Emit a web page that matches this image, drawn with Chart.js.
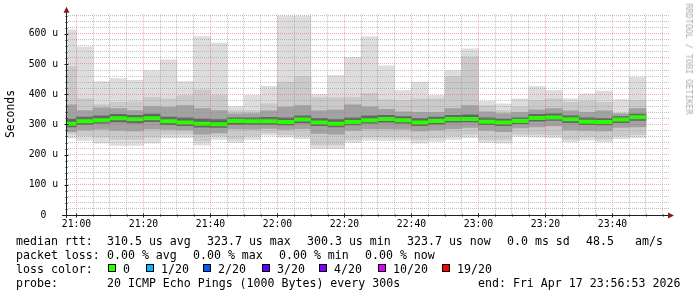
<!DOCTYPE html>
<html>
<head>
<meta charset="utf-8">
<script src="https://cdn.jsdelivr.net/npm/chart.js@4.4.1/dist/chart.umd.min.js"></script>
<style>
  html, body { margin: 0; padding: 0; background: #fff; }
  #wrap { position: relative; width: 697px; height: 297px; overflow: hidden; background: #fff; }
  #wrap canvas { position: absolute; left: 0; top: 0; }
  .t { position: absolute; font-family: "DejaVu Sans Mono", monospace; font-size: 11.6px; line-height: 14px; white-space: pre; color: #000; }
  .box { position: absolute; width: 6px; height: 6px; border: 1px solid #000; top: 264px; }
  #ylabel { position: absolute; left: 10px; top: 114px; font-family: "DejaVu Sans Mono", monospace; font-size: 11.4px; white-space: nowrap;
            transform: translate(-50%, -50%) rotate(-90deg); }
  #wm { position: absolute; left: 689px; top: 59px; font-family: "DejaVu Sans Mono", monospace; font-size: 8.4px; color: #aaa; white-space: nowrap;
        transform: translate(-50%, -50%) rotate(90deg); }
</style>
</head>
<body>
<div id="wrap">
  <canvas id="smoke" width="697" height="297"></canvas>
  <div id="ylabel">Seconds</div>
  <div id="wm">RRDTOOL / TOBI OETIKER</div>

  <div class="t" style="left:16px;top:234px">median rtt:</div>
  <div class="t" style="left:107px;top:234px">310.5 us avg</div>
  <div class="t" style="left:207px;top:234px">323.7 us max</div>
  <div class="t" style="left:307px;top:234px">300.3 us min</div>
  <div class="t" style="left:407px;top:234px">323.7 us now</div>
  <div class="t" style="left:507px;top:234px">0.0 ms sd</div>
  <div class="t" style="left:586px;top:234px">48.5</div>
  <div class="t" style="left:635px;top:234px">am/s</div>

  <div class="t" style="left:16px;top:248px">packet loss:</div>
  <div class="t" style="left:107px;top:248px">0.00 % avg</div>
  <div class="t" style="left:193px;top:248px">0.00 % max</div>
  <div class="t" style="left:279px;top:248px">0.00 % min</div>
  <div class="t" style="left:365px;top:248px">0.00 % now</div>

  <div class="t" style="left:16px;top:262px">loss color:</div>
  <div id="losslegend"></div>

  <div class="t" style="left:16px;top:276px">probe:</div>
  <div class="t" style="left:107px;top:276px">20 ICMP Echo Pings (1000 Bytes) every 300s</div>
  <div class="t" style="left:478px;top:276px">end: Fri Apr 17 23:56:53 2026</div>
</div>

<script>
// 5 minute slots (start time of each smoke column)
const slotStart = [
  "20:55", "21:00", "21:05", "21:10", "21:15", "21:20", "21:25", "21:30", "21:35", "21:40",
  "21:45", "21:50", "21:55", "22:00", "22:05", "22:10", "22:15", "22:20", "22:25", "22:30",
  "22:35", "22:40", "22:45", "22:50", "22:55", "23:00", "23:05", "23:10", "23:15", "23:20",
  "23:25", "23:30", "23:35", "23:40", "23:45"
];

// rtt in microseconds
const rttMedian = [302, 310, 314, 320, 317, 320, 310, 306, 302, 300.3, 311, 310, 310, 308, 316, 306, 302, 308, 314, 318,
                   314, 306, 311, 318, 318, 309, 306, 311, 321, 323, 317, 309, 308, 316, 323.7];
const rttMax    = [613, 557, 442, 452, 446, 477, 514, 442, 591, 569, 359, 396, 426, 659, 659, 399, 462, 522, 590, 494,
                   412, 440, 396, 478, 550, 376, 368, 385, 425, 412, 385, 401, 410, 382, 456];
const rtt19     = [491, 385, 366, 373, 375, 390, 385, 395, 414, 396, 346, 346, 368, 440, 458, 388, 388, 390, 403, 381,
                   379, 385, 385, 458, 524, 362, 346, 357, 379, 385, 373, 377, 373, 337, 379];
const rttP75    = [365, 346, 355, 352, 346, 359, 357, 362, 352, 346, 335, 336, 345, 357, 362, 345, 348, 365, 358, 350,
                   342, 340, 340, 352, 362, 342, 336, 340, 348, 352, 345, 340, 345, 335, 352];
const rttP60    = [318, 324, 328, 333, 330, 334, 324, 322, 318, 316, 322, 322, 323, 322, 328, 320, 316, 322, 328, 330,
                   326, 320, 324, 330, 332, 322, 318, 322, 333, 335, 328, 322, 320, 326, 334];
const rttP40    = [292, 300, 304, 308, 305, 309, 299, 296, 291, 290, 300, 300, 300, 298, 305, 296, 292, 298, 304, 307,
                   304, 296, 301, 307, 308, 299, 296, 302, 311, 313, 306, 299, 298, 306, 313];
const rttP25    = [276, 282, 284, 280, 278, 285, 283, 282, 268, 272, 285, 284, 287, 283, 286, 270, 268, 280, 285, 285,
                   284, 278, 282, 286, 290, 280, 276, 288, 292, 295, 282, 280, 278, 290, 292];
const rtt2      = [269, 262, 258, 250, 250, 258, 268, 268, 245, 262, 252, 262, 272, 266, 262, 232, 232, 250, 258, 258,
                   258, 250, 255, 262, 268, 250, 250, 268, 268, 265, 252, 258, 252, 262, 266];
const rttMin    = [255, 247, 238, 230, 230, 238, 255, 256, 231, 250, 240, 250, 264, 258, 253, 220, 220, 240, 247, 246,
                   247, 238, 244, 250, 256, 240, 238, 260, 258, 256, 242, 248, 242, 253, 256];

const xTickLabels = ["21:00", "21:20", "21:40", "22:00", "22:20", "22:40", "23:00", "23:20", "23:40"];
const yTickValues = [0, 100, 200, 300, 400, 500, 600];
const yTickLabels = ["0  ", "100 u", "200 u", "300 u", "400 u", "500 u", "600 u"];

const lossNames  = ["0", "1/20", "2/20", "3/20", "4/20", "10/20", "19/20"];
const lossColors = ["#26ff00", "#00b8ff", "#0059ff", "#5e00ff", "#7e00ff", "#dd00ff", "#ff0000"];

const endTime = "23:56:53";
const stepMin = 5;

// minutes relative to 21:00
function toMin(s) {
  const p = s.split(":").map(Number);
  return p[0] * 60 + p[1] + (p[2] || 0) / 60 - 21 * 60;
}
function toLabel(m) {
  const t = Math.round(m) + 21 * 60;
  return String(Math.floor(t / 60)).padStart(2, "0") + ":" + String(t % 60).padStart(2, "0");
}

const axisEnd = toMin(endTime);
const axisStart = axisEnd - 180;
const xCenter = slotStart.map(s => toMin(s) + stepMin / 2);

// loss colour legend
const lossLegend = document.getElementById("losslegend");
const boxX = [108, 146, 203, 262, 319, 378, 442];
lossNames.forEach((name, i) => {
  const b = document.createElement("div");
  b.className = "box";
  b.style.left = boxX[i] + "px";
  b.style.background = lossColors[i];
  lossLegend.appendChild(b);
  const t = document.createElement("div");
  t.className = "t";
  t.style.left = (boxX[i] + 15) + "px";
  t.style.top = "262px";
  t.textContent = name;
  lossLegend.appendChild(t);
});

function band(lo, hi) {
  return xCenter.map((x, i) => ({ x: x, y: [lo[i], hi[i]] }));
}
function smoke(label, lo, hi, color, order) {
  return {
    type: "bar",
    label: label,
    data: band(lo, hi),
    backgroundColor: color,
    borderWidth: 0,
    grouped: false,
    barPercentage: 1,
    categoryPercentage: 1,
    order: order,
    clip: 0
  };
}

const gridColor = "rgba(143,143,143,0.55)";
const mgridColor = "rgba(222,79,79,0.45)";
const tickFont = { family: "DejaVu Sans Mono", size: 9.75 };

const rrdAxes = {
  id: "rrdAxes",
  afterDraw(chart) {
    const { ctx, chartArea: a, scales } = chart;
    ctx.save();
    ctx.strokeStyle = "#1f1f1f";
    ctx.lineWidth = 1;
    ctx.beginPath();
    ctx.moveTo(a.left + 0.5, a.bottom + 3);
    ctx.lineTo(a.left + 0.5, a.top - 4);
    ctx.moveTo(a.left - 4, a.bottom + 0.5);
    ctx.lineTo(a.right, a.bottom + 0.5);
    // tick marks on the axes
    scales.x.ticks.forEach(t => {
      const px = Math.round(scales.x.getPixelForValue(t.value)) + 0.5;
      const len = (Math.round(t.value) % 20 === 0) ? 2 : 1;
      ctx.moveTo(px, a.bottom + 0.5 - len);
      ctx.lineTo(px, a.bottom + 0.5 + len);
    });
    scales.y.ticks.forEach(t => {
      const py = Math.round(scales.y.getPixelForValue(t.value)) + 0.5;
      const len = (t.value % 100 === 0) ? 2 : 1;
      ctx.moveTo(a.left + 0.5 - len, py);
      ctx.lineTo(a.left + 0.5 + len, py);
    });
    ctx.stroke();
    ctx.fillStyle = "rgb(128,31,31)";
    ctx.beginPath();
    ctx.moveTo(a.left + 0.5, a.top - 7);
    ctx.lineTo(a.left - 2.5, a.top - 1);
    ctx.lineTo(a.left + 3.5, a.top - 1);
    ctx.closePath();
    ctx.fill();
    ctx.beginPath();
    ctx.moveTo(a.right + 5, a.bottom + 0.5);
    ctx.lineTo(a.right - 1, a.bottom - 2.5);
    ctx.lineTo(a.right - 1, a.bottom + 3.5);
    ctx.closePath();
    ctx.fill();
    ctx.restore();
  }
};

new Chart(document.getElementById("smoke"), {
  type: "bar",
  data: {
    datasets: [
      {
        type: "line",
        label: "median",
        data: xCenter.map((x, i) => ({ x: x, y: rttMedian[i] })),
        showLine: false,
        pointStyle: "line",
        pointRadius: 8.4,
        pointBorderWidth: 4,
        pointBorderColor: lossColors[0],
        borderColor: lossColors[0],
        order: 0,
        clip: 0
      },
      smoke("p40-p60", rttP40, rttP60, "#666666", 1),
      smoke("p25-p75", rttP25, rttP75, "#a2a2a2", 2),
      smoke("2-19", rtt2, rtt19, "#cacaca", 3),
      smoke("min-max", rttMin, rttMax, "#dddddd", 4)
    ]
  },
  options: {
    responsive: false,
    devicePixelRatio: 1,
    animation: false,
    events: [],
    layout: { padding: { top: 13, right: 28, left: 0, bottom: 0 } },
    plugins: { legend: { display: false }, tooltip: { enabled: false } },
    scales: {
      x: {
        type: "linear",
        min: axisStart,
        max: axisEnd,
        offset: false,
        afterBuildTicks: scale => {
          const ticks = [];
          for (let m = Math.ceil(axisStart / stepMin) * stepMin; m <= axisEnd; m += stepMin) ticks.push({ value: m });
          scale.ticks = ticks;
        },
        afterFit: scale => { scale.height = 82; },
        grid: {
          offset: false,
          z: 1,
          drawTicks: false,
          lineWidth: 1,
          color: c => (c.tick && Math.round(c.tick.value) % 20 === 0) ? mgridColor : gridColor
        },
        border: { display: false, dash: [1, 1] },
        ticks: {
          autoSkip: false,
          maxRotation: 0,
          padding: 4,
          color: "#000",
          font: tickFont,
          callback: v => {
            const l = toLabel(v);
            return xTickLabels.includes(l) ? l : "";
          }
        }
      },
      y: {
        type: "linear",
        min: 0,
        max: 666,
        afterBuildTicks: scale => {
          const ticks = [];
          for (let v = 0; v < 666; v += 20) ticks.push({ value: v });
          scale.ticks = ticks;
        },
        afterFit: scale => { scale.width = 66; },
        grid: {
          z: 1,
          drawTicks: false,
          lineWidth: 1,
          color: c => (c.tick && c.tick.value % 100 === 0) ? mgridColor : gridColor
        },
        border: { display: false, dash: [1, 1] },
        ticks: {
          autoSkip: false,
          padding: 8,
          color: "#000",
          font: tickFont,
          callback: v => {
            const i = yTickValues.indexOf(v);
            return i >= 0 ? yTickLabels[i] : "";
          }
        }
      }
    }
  },
  plugins: [rrdAxes]
});
</script>
</body>
</html>
